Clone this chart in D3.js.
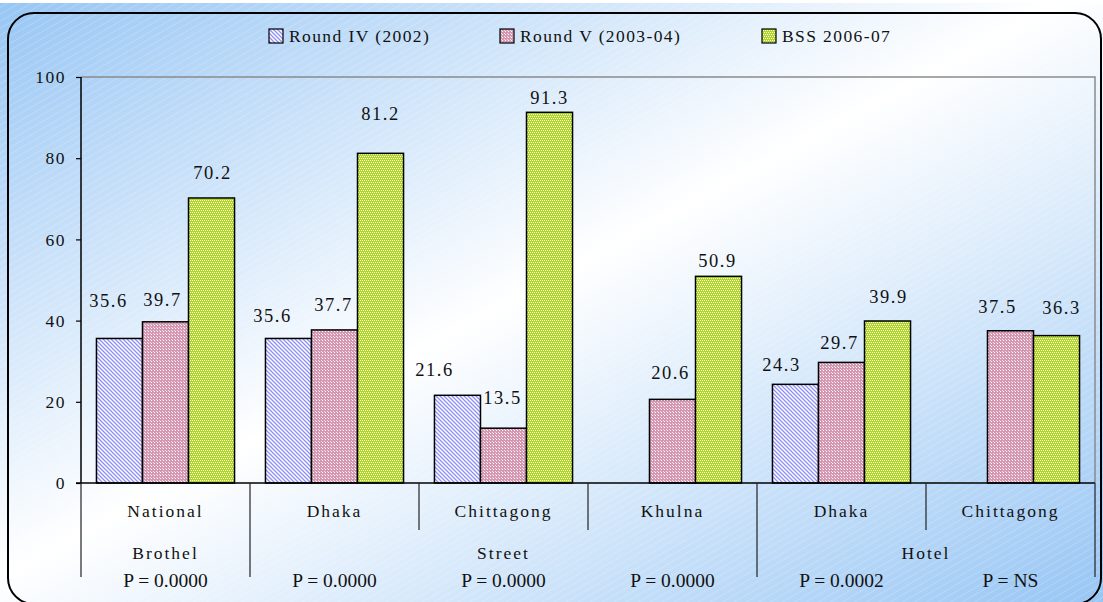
<!DOCTYPE html>
<html><head><meta charset="utf-8">
<script src="https://cdn.jsdelivr.net/npm/d3@7"></script>
<style>html,body{margin:0;padding:0;background:#fff}svg{display:block}
svg text{font-family:"Liberation Serif","Times New Roman",Times,serif;fill:#111}</style>
</head><body>
<svg id="c" width="1103" height="602"></svg>
<script>
// ---- data ----
const categories = ["National","Dhaka","Chittagong","Khulna","Dhaka","Chittagong"];
const groupNames = ["Brothel","Street","Hotel"];
const groupSpans = [1,3,2];
const pValues = ["P = 0.0000","P = 0.0000","P = 0.0000","P = 0.0000","P = 0.0002","P = NS"];
const seriesNames = ["Round IV (2002)","Round V (2003-04)","BSS 2006-07"];
const round4 = [35.6,35.6,21.6,null,24.3,null];
const round5 = [39.7,37.7,13.5,20.6,29.7,37.5];
const bss    = [70.2,81.2,91.3,50.9,39.9,36.3];
const yTicks = [0,20,40,60,80,100];

// ---- layout / style (separate from data) ----
const labelNudge = [
  [[-11,-38],[-16,-23],[-23,-26],null,[-14,-20],null],
  [[-3,-22],[-1,-25],[-1,-31],[-2,-27],[-2,-20],[-13,-24]],
  [[1,-25],[0,-40],[0,-15],[-1,-16],[1,-24],[5,-28]]
];
const patIds = ["pR4","pR5","pBSS"];

const svg = d3.select("#c");
const W = 1103, H = 602;
const m = {l:81, r:1095, t:77, b:483};
const defs = svg.append("defs");

// background gradient
const g = defs.append("linearGradient").attr("id","bgGrad")
  .attr("x1","0").attr("y1","0").attr("x2","1").attr("y2","1");
g.append("stop").attr("offset","0%").attr("stop-color","#98c6f4");
g.append("stop").attr("offset","48%").attr("stop-color","#ffffff");
g.append("stop").attr("offset","100%").attr("stop-color","#98c6f4");
const st = defs.append("pattern").attr("id","stripes").attr("patternUnits","userSpaceOnUse")
  .attr("width",6).attr("height",6).attr("patternTransform","rotate(-30)");
st.append("line").attr("x1",0).attr("y1",0).attr("x2",6).attr("y2",0)
  .attr("stroke","#ffffff").attr("stroke-width",1).attr("stroke-opacity",0.35);

// bar patterns
const p1 = defs.append("pattern").attr("id","pR4").attr("patternUnits","userSpaceOnUse").attr("width",4).attr("height",4);
p1.append("rect").attr("width",4).attr("height",4).attr("fill","#ffffff");
p1.append("path").attr("d","M0,0L4,4M-1,3L1,5M3,-1L5,1").attr("stroke","#8f8ff2").attr("stroke-width",1.3);
const p2 = defs.append("pattern").attr("id","pR5").attr("patternUnits","userSpaceOnUse").attr("width",3).attr("height",3);
p2.append("rect").attr("width",3).attr("height",3).attr("fill","#d596b1");
p2.append("rect").attr("width",1).attr("height",1).attr("x",1).attr("y",1).attr("fill","#ffffff");
p2.append("rect").attr("width",1).attr("height",1).attr("x",0).attr("y",0).attr("fill","#f2dbe5");
const p3 = defs.append("pattern").attr("id","pBSS").attr("patternUnits","userSpaceOnUse").attr("width",4).attr("height",4);
p3.append("rect").attr("width",4).attr("height",4).attr("fill","#b0d820");
[[0,0],[2,0],[1,2],[3,2]].forEach(([px,py])=>
  p3.append("rect").attr("x",px).attr("y",py).attr("width",1).attr("height",1).attr("fill","#ffffff"));

svg.append("rect").attr("x",0).attr("y",0).attr("width",W).attr("height",H).attr("fill","#ffffff");
svg.append("rect").attr("x",0).attr("y",3).attr("width",W).attr("height",H-3).attr("fill","url(#bgGrad)");
svg.append("rect").attr("x",0).attr("y",3).attr("width",W).attr("height",H-3).attr("fill","url(#stripes)");
svg.append("rect").attr("x",8).attr("y",13).attr("width",1093).attr("height",591)
  .attr("rx",26).attr("ry",26).attr("fill","none").attr("stroke","#000").attr("stroke-width",2);

// scales
const idx = categories.map((d,i)=>i);
const x0 = d3.scaleBand().domain(idx).range([m.l,m.r]).paddingInner(0.183).paddingOuter(0.0915);
const x1 = d3.scaleBand().domain([0,1,2]).range([0,x0.bandwidth()]);
const y = d3.scaleLinear().domain([0,100]).range([m.b,m.t]);
const step = x0.step();
const edge = i => m.l + i*step;

// plot area border (gray)
svg.append("path").attr("d",`M${m.l},${m.t}H${m.r}V${m.b}`).attr("fill","none")
  .attr("stroke","#8a8a8a").attr("stroke-width",1.5);

// bars
const series = [round4, round5, bss];
series.forEach((vals,s)=>{
  const gS = svg.append("g");
  const pts = vals.map((v,i)=>({v,i})).filter(d=>d.v!=null);
  gS.selectAll("rect").data(pts).join("rect")
    .attr("x",d=>x0(d.i)+x1(s)).attr("y",d=>y(d.v))
    .attr("width",x1.bandwidth()).attr("height",d=>y(0)-y(d.v))
    .attr("fill",`url(#${patIds[s]})`).attr("stroke","#000").attr("stroke-width",1.5);
  gS.selectAll("text").data(pts).join("text")
    .attr("x",d=>x0(d.i)+x1(s)+x1.bandwidth()/2+labelNudge[s][d.i][0])
    .attr("y",d=>y(d.v)+labelNudge[s][d.i][1])
    .attr("dy","0.35em").attr("text-anchor","middle")
    .style("font-size","18.5px").style("letter-spacing","1.5px")
    .text(d=>d3.format(".1f")(d.v));
});

// y axis
const yAx = svg.append("g").attr("transform",`translate(${m.l},0)`)
  .call(d3.axisLeft(y).tickValues(yTicks).tickSize(5).tickPadding(10).tickFormat(d3.format("d")));
yAx.attr("font-family",null).attr("font-size",null);
yAx.select(".domain").attr("stroke","#000").attr("stroke-width",1.5).attr("d",`M0,${m.t}V${m.b}`);
yAx.selectAll(".tick line").attr("stroke","#000").attr("stroke-width",1.2);
yAx.selectAll(".tick text").style("font-size","17.5px").style("letter-spacing","1.5px");

// x axis line
svg.append("line").attr("x1",m.l-5).attr("x2",m.r).attr("y1",m.b).attr("y2",m.b)
  .attr("stroke","#000").attr("stroke-width",1.5);

// separators
const groupEdges = [0];
groupSpans.forEach(s=>groupEdges.push(groupEdges[groupEdges.length-1]+s));
for(let i=0;i<=categories.length;i++){
  const long = groupEdges.includes(i);
  svg.append("line").attr("x1",edge(i)).attr("x2",edge(i)).attr("y1",m.b).attr("y2",long?577:530)
    .attr("stroke","#222").attr("stroke-width",1.2);
}
// category labels
svg.append("g").selectAll("text").data(idx).join("text")
  .attr("x",i=>x0(i)+x0.bandwidth()/2).attr("y",517).attr("text-anchor","middle")
  .style("font-size","17.5px").style("letter-spacing","2px")
  .text(i=>categories[i]);
// group labels
svg.append("g").selectAll("text").data(groupNames).join("text")
  .attr("x",(d,k)=>(edge(groupEdges[k])+edge(groupEdges[k+1]))/2).attr("y",559).attr("text-anchor","middle")
  .style("font-size","17.5px").style("letter-spacing","2px")
  .text(d=>d);
// p values
svg.append("g").selectAll("text").data(pValues).join("text")
  .attr("x",(d,i)=>x0(i)+x0.bandwidth()/2).attr("y",587).attr("text-anchor","middle")
  .style("font-size","19.5px")
  .text(d=>d);

// legend
const legX = [269,500,762];
const leg = svg.append("g");
seriesNames.forEach((n,s)=>{
  leg.append("rect").attr("x",legX[s]).attr("y",29).attr("width",14).attr("height",14)
    .attr("fill",`url(#${patIds[s]})`).attr("stroke","#000").attr("stroke-width",1.2);
  leg.append("text").attr("x",legX[s]+20).attr("y",42)
    .style("font-size","17.5px").style("letter-spacing","1.4px").text(n);
});
</script>
</body></html>
